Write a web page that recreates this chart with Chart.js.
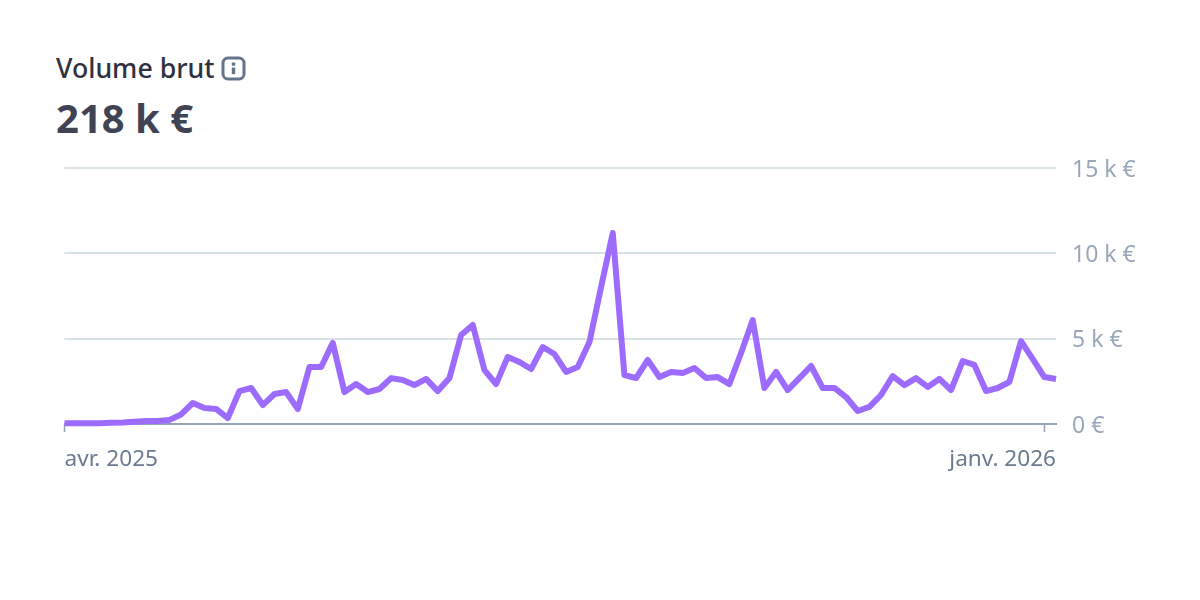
<!DOCTYPE html>
<html lang="fr">
<head>
<meta charset="utf-8">
<title>Volume brut</title>
<script src="https://cdn.jsdelivr.net/npm/chart.js@4"></script>
<style>
  html, body { margin: 0; padding: 0; background: #fff; }
  body { width: 1200px; height: 600px; position: relative; overflow: hidden; font-family: "Noto Sans", sans-serif; }
  #chart { position: absolute; left: 0; top: 0; }
  .title { position: absolute; left: 56px; top: 50px; font-size: 26.7px; line-height: 36px; font-weight: 500; color: #2f3140; display: flex; align-items: center; }
  .title svg { margin-left: 7px; }
  .total { position: absolute; left: 56px; top: 92px; font-size: 40px; line-height: 52px; font-weight: 700; color: #3f4353; }
</style>
</head>
<body>
<div class="title">Volume brut
  <svg width="25" height="25" viewBox="0 0 25 25" fill="none">
    <rect x="2" y="2" width="21" height="21" rx="5" stroke="#64748b" stroke-width="3"/>
    <rect x="10.8" y="6.6" width="3.4" height="3.2" rx="0.6" fill="#64748b"/>
    <rect x="10.8" y="11.6" width="3.4" height="6.6" rx="0.6" fill="#64748b"/>
  </svg>
</div>
<div class="total">218 k €</div>
<canvas id="chart" width="1200" height="600"></canvas>
<script>
var volume = [50, 50, 50, 50, 80, 90, 130, 170, 170, 240,
  560, 1230, 940, 880, 350, 1930, 2110, 1110, 1760, 1870,
  880, 3340, 3340, 4750, 1870, 2340, 1870, 2050, 2690, 2580,
  2280, 2640, 1930, 2690, 5210, 5800, 3160, 2340, 3930, 3630,
  3220, 4510, 4100, 3050, 3340, 4800, 8020, 11190, 2870, 2690,
  3750, 2750, 3050, 2990, 3280, 2690, 2750, 2340, 4160, 6090,
  2110, 3050, 1990, 2690, 3400, 2110, 2110, 1580, 760, 1000,
  1700, 2810, 2280, 2690, 2170, 2640, 1990, 3690, 3460, 1930,
  2110, 2460, 4860, 3810, 2750, 2640];
var tickIndexes = [0, 84, 85];
var tickNames = ["avr. 2025", "", "janv. 2026"];
var tickMarks = ["#94a3b8", "#94a3b8", "rgba(0,0,0,0)"];

var FONT = "'Noto Sans', sans-serif";

new Chart(document.getElementById("chart"), {
  type: "line",
  data: {
    labels: volume.map(function (v, i) { return i; }),
    datasets: [{
      data: volume,
      borderColor: "#9d6cff",
      borderWidth: 6,
      pointRadius: 0,
      tension: 0,
      clip: false,
      borderJoinStyle: "round",
      borderCapStyle: "butt"
    }]
  },
  options: {
    responsive: false,
    animation: false,
    layout: { padding: { left: 64.5, top: 168, right: 0, bottom: 0 } },
    plugins: { legend: { display: false }, tooltip: { enabled: false } },
    scales: {
      x: {
        afterBuildTicks: function (s) {
          s.ticks = tickIndexes.map(function (i) { return { value: i }; });
        },
        afterFit: function (s) { s.height = 176; },
        grid: {
          drawOnChartArea: false,
          tickLength: 8,
          tickWidth: 1.5,
          tickColor: function (c) { return tickMarks[c.index]; }
        },
        border: { color: "#94a3b8", width: 2 },
        ticks: {
          autoSkip: false,
          maxRotation: 0,
          align: "inner",
          padding: 14,
          color: "#6b7a90",
          font: { family: FONT, size: 22.6 },
          callback: function (v) { return tickNames[tickIndexes.indexOf(v)]; }
        }
      },
      y: {
        position: "right",
        min: 0,
        max: 15000,
        afterFit: function (s) { s.width = 144; },
        grid: { color: "#d9e2e6", lineWidth: 2, drawTicks: false },
        border: { display: false },
        ticks: {
          stepSize: 5000,
          padding: 16,
          labelOffset: 2,
          color: "#9aa7bb",
          font: { family: FONT, size: 23 },
          callback: function (v) { return v === 0 ? "0 €" : (v / 1000) + " k €"; }
        }
      }
    }
  }
});
</script>
</body>
</html>
